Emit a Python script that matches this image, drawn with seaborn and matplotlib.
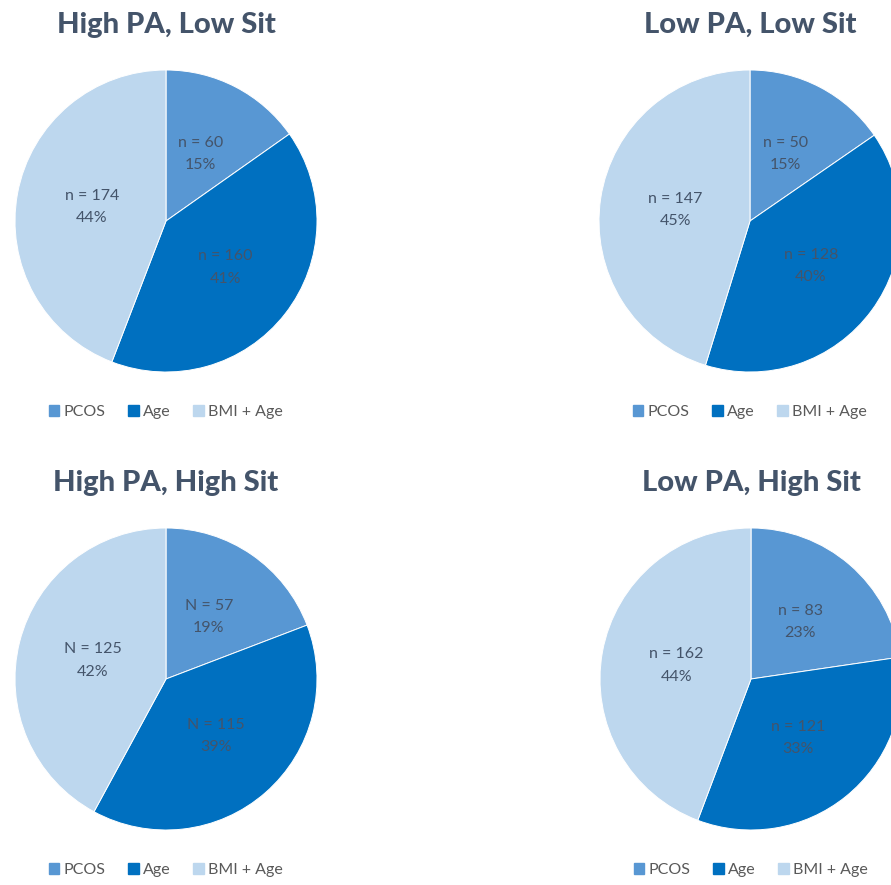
import numpy as np
import matplotlib
matplotlib.use("Agg")
import matplotlib.pyplot as plt
import seaborn as sns

# Groups and their counts per category
titles = ["High PA, Low Sit", "Low PA, Low Sit", "High PA, High Sit", "Low PA, High Sit"]
categories = ["PCOS", "Age", "BMI + Age"]
counts_high_pa_low_sit = [60, 160, 174]
counts_low_pa_low_sit = [50, 128, 147]
counts_high_pa_high_sit = [57, 115, 125]
counts_low_pa_high_sit = [83, 121, 162]
pct_high_pa_low_sit = ["15%", "41%", "44%"]
pct_low_pa_low_sit = ["15%", "40%", "45%"]
pct_high_pa_high_sit = ["19%", "39%", "42%"]
pct_low_pa_high_sit = ["23%", "33%", "44%"]
count_prefix = ["n", "n", "N", "n"]

all_counts = [counts_high_pa_low_sit, counts_low_pa_low_sit,
              counts_high_pa_high_sit, counts_low_pa_high_sit]
all_pcts = [pct_high_pa_low_sit, pct_low_pa_low_sit,
            pct_high_pa_high_sit, pct_low_pa_high_sit]

sns.set_theme(style="white")
plt.rcParams["font.family"] = ["Lato", "DejaVu Sans"]

palette = sns.color_palette(["#5897d3", "#0070c0", "#bdd7ee"])
title_color = "#44546a"
label_color = "#44546a"
legend_color = "#595959"

W, H = 891, 885
fig = plt.figure(figsize=(W / 100, H / 100), dpi=100)
fig.patch.set_facecolor("white")

# pixel layout of each panel: pie centre, title height, legend height
centers = [(166, 221), (750, 221), (166, 679), (751, 679)]
title_y = [25, 25, 483, 483]
legend_y = [412, 412, 870, 870]
R = 151


def fx(x):
    return x / W


def fy(y):
    return 1 - y / H


for i, (cx, cy) in enumerate(centers):
    ax = fig.add_axes([fx(cx - R), fy(cy + R), 2 * R / W, 2 * R / H])
    wedges, _ = ax.pie(all_counts[i], colors=palette, startangle=90,
                       counterclock=False, radius=1,
                       wedgeprops=dict(edgecolor="white", linewidth=0.7))
    ax.set_xlim(-1, 1)
    ax.set_ylim(-1, 1)
    ax.set_aspect("equal")
    ax.axis("off")
    for w, n, p in zip(wedges, all_counts[i], all_pcts[i]):
        mid = np.deg2rad((w.theta1 + w.theta2) / 2)
        ax.text(0.5 * np.cos(mid), 0.5 * np.sin(mid),
                f"{count_prefix[i]} = {n}\n{p}", ha="center", va="center",
                fontsize=11.5, color=label_color, linespacing=1.75)
    fig.text(fx(cx), fy(title_y[i]), titles[i], ha="center", va="center",
             fontsize=21, fontweight=900, color=title_color)
    handles = [plt.Rectangle((0, 0), 1, 1, color=c) for c in palette]
    leg = fig.legend(handles, categories, loc="center",
                     bbox_to_anchor=(fx(cx), fy(legend_y[i])), ncol=3,
                     frameon=False, fontsize=11.5, handlelength=0.65,
                     handleheight=0.65, handletextpad=0.3, columnspacing=1.4)
    for t in leg.get_texts():
        t.set_color(legend_color)

fig.savefig("out.png", dpi=100, facecolor="white")
